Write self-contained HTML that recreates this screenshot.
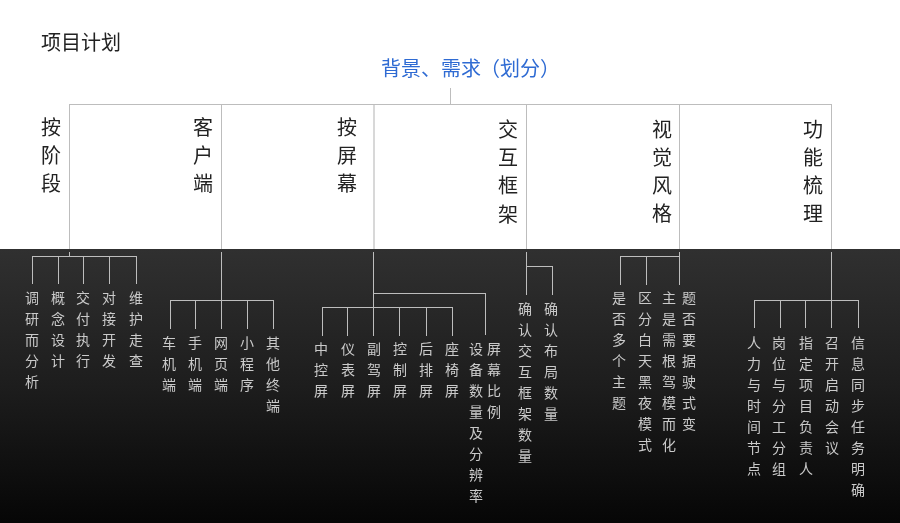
<!DOCTYPE html>
<html lang="zh-CN"><head><meta charset="utf-8">
<style>
html,body{margin:0;padding:0}
body{width:900px;height:523px;position:relative;overflow:hidden;background:#fff;font-family:"Liberation Sans",sans-serif}
.dark{position:absolute;left:0;top:249px;width:900px;height:274px;background:linear-gradient(#303030,#1d1d1d 50%,#060606)}
.wrap{position:absolute;left:0;top:0;width:900px;height:523px;will-change:transform}
.lines{position:absolute;left:0;top:0}
.lines line{stroke-width:1}
.t{position:absolute;font-size:14px;line-height:21px;color:#cacaca;width:14px;text-align:center;white-space:nowrap}
.h{position:absolute;font-size:20px;line-height:28.2px;color:#222;width:20px;text-align:center;white-space:nowrap}
.title{position:absolute;left:41px;top:31px;font-size:20px;line-height:24px;color:#222;white-space:nowrap}
.sub{position:absolute;left:381px;top:56px;font-size:20px;line-height:26px;color:#2f6bd3;font-weight:500;white-space:nowrap}
</style></head><body>
<div class="dark"></div>
<div class="wrap">
<svg class="lines" width="900" height="523" viewBox="0 0 900 523" shape-rendering="crispEdges">
<line x1="69" y1="104.5" x2="832" y2="104.5" stroke="#bdbdbd"/>
<line x1="450.5" y1="88" x2="450.5" y2="104.5" stroke="#bdbdbd"/>
<line x1="69.5" y1="104.5" x2="69.5" y2="249" stroke="#bdbdbd"/>
<line x1="221.5" y1="104.5" x2="221.5" y2="249" stroke="#bdbdbd"/>
<line x1="526.5" y1="104.5" x2="526.5" y2="249" stroke="#bdbdbd"/>
<line x1="679.5" y1="104.5" x2="679.5" y2="249" stroke="#bdbdbd"/>
<line x1="831.5" y1="104.5" x2="831.5" y2="249" stroke="#bdbdbd"/>
<line x1="69.5" y1="252" x2="69.5" y2="256.5" stroke="#bdbdbd"/>
<line x1="32.0" y1="256.5" x2="136.5" y2="256.5" stroke="#bdbdbd"/>
<line x1="32.5" y1="256.5" x2="32.5" y2="284" stroke="#bdbdbd"/>
<line x1="58.0" y1="256.5" x2="58.0" y2="284" stroke="#bdbdbd"/>
<line x1="83.7" y1="256.5" x2="83.7" y2="284" stroke="#bdbdbd"/>
<line x1="109.5" y1="256.5" x2="109.5" y2="284" stroke="#bdbdbd"/>
<line x1="136.0" y1="256.5" x2="136.0" y2="284" stroke="#bdbdbd"/>
<line x1="221.5" y1="252" x2="221.5" y2="300.5" stroke="#bdbdbd"/>
<line x1="169.6" y1="300.5" x2="274.2" y2="300.5" stroke="#bdbdbd"/>
<line x1="170.1" y1="300.5" x2="170.1" y2="328.6" stroke="#bdbdbd"/>
<line x1="195.9" y1="300.5" x2="195.9" y2="328.6" stroke="#bdbdbd"/>
<line x1="221.0" y1="300.5" x2="221.0" y2="328.6" stroke="#bdbdbd"/>
<line x1="247.0" y1="300.5" x2="247.0" y2="328.6" stroke="#bdbdbd"/>
<line x1="273.7" y1="300.5" x2="273.7" y2="328.6" stroke="#bdbdbd"/>
<line x1="373.5" y1="252" x2="373.5" y2="335.5" stroke="#bdbdbd"/>
<line x1="373.5" y1="293.5" x2="486.0" y2="293.5" stroke="#bdbdbd"/>
<line x1="485.5" y1="293.5" x2="485.5" y2="335.0" stroke="#bdbdbd"/>
<line x1="322.1" y1="307.5" x2="452.9" y2="307.5" stroke="#bdbdbd"/>
<line x1="322.6" y1="307.5" x2="322.6" y2="335.5" stroke="#bdbdbd"/>
<line x1="347.9" y1="307.5" x2="347.9" y2="335.5" stroke="#bdbdbd"/>
<line x1="373.5" y1="307.5" x2="373.5" y2="335.5" stroke="#bdbdbd"/>
<line x1="399.4" y1="307.5" x2="399.4" y2="335.5" stroke="#bdbdbd"/>
<line x1="426.4" y1="307.5" x2="426.4" y2="335.5" stroke="#bdbdbd"/>
<line x1="452.4" y1="307.5" x2="452.4" y2="335.5" stroke="#bdbdbd"/>
<line x1="526.5" y1="252" x2="526.5" y2="294.8" stroke="#bdbdbd"/>
<line x1="526.5" y1="266.5" x2="552.8" y2="266.5" stroke="#bdbdbd"/>
<line x1="552.5" y1="266.5" x2="552.5" y2="294.8" stroke="#bdbdbd"/>
<line x1="679.5" y1="252" x2="679.5" y2="284.5" stroke="#bdbdbd"/>
<line x1="620.0" y1="256.5" x2="679.5" y2="256.5" stroke="#bdbdbd"/>
<line x1="620.5" y1="256.5" x2="620.5" y2="284.5" stroke="#bdbdbd"/>
<line x1="646.2" y1="256.5" x2="646.2" y2="284.5" stroke="#bdbdbd"/>
<line x1="831.5" y1="252" x2="831.5" y2="300.5" stroke="#bdbdbd"/>
<line x1="754.0" y1="300.5" x2="858.5" y2="300.5" stroke="#bdbdbd"/>
<line x1="754.5" y1="300.5" x2="754.5" y2="328.4" stroke="#bdbdbd"/>
<line x1="780.5" y1="300.5" x2="780.5" y2="328.4" stroke="#bdbdbd"/>
<line x1="805.5" y1="300.5" x2="805.5" y2="328.4" stroke="#bdbdbd"/>
<line x1="831.5" y1="300.5" x2="831.5" y2="328.4" stroke="#bdbdbd"/>
<line x1="858.0" y1="300.5" x2="858.0" y2="328.4" stroke="#bdbdbd"/>
<rect x="373" y="105" width="2" height="144" fill="#d8d8d8"/>
</svg>
<div class="title">项目计划</div>
<div class="sub">背景、需求<span style="position:relative;left:-1.3px">（划分）</span></div>
<div class="h" style="left:40.50px;top:113.5px">按<br>阶<br>段</div>
<div class="h" style="left:193.20px;top:113.5px">客<br>户<br>端</div>
<div class="h" style="left:337.30px;top:113.5px">按<br>屏<br>幕</div>
<div class="h" style="left:498.20px;top:115.9px">交<br>互<br>框<br>架</div>
<div class="h" style="left:651.80px;top:115.8px">视<br>觉<br>风<br>格</div>
<div class="h" style="left:802.70px;top:115.7px">功<br>能<br>梳<br>理</div>
<div class="t" style="left:24.90px;top:288.0px">调<br>研<br>而<br>分<br>析</div>
<div class="t" style="left:50.60px;top:288.0px">概<br>念<br>设<br>计</div>
<div class="t" style="left:76.40px;top:288.0px">交<br>付<br>执<br>行</div>
<div class="t" style="left:102.10px;top:288.0px">对<br>接<br>开<br>发</div>
<div class="t" style="left:128.70px;top:288.0px">维<br>护<br>走<br>查</div>
<div class="t" style="left:162.10px;top:332.5px">车<br>机<br>端</div>
<div class="t" style="left:188.30px;top:332.5px">手<br>机<br>端</div>
<div class="t" style="left:214.00px;top:332.5px">网<br>页<br>端</div>
<div class="t" style="left:240.20px;top:332.5px">小<br>程<br>序</div>
<div class="t" style="left:266.40px;top:332.5px">其<br>他<br>终<br>端</div>
<div class="t" style="left:314.30px;top:338.5px">中<br>控<br>屏</div>
<div class="t" style="left:340.70px;top:338.5px">仪<br>表<br>屏</div>
<div class="t" style="left:367.30px;top:338.5px">副<br>驾<br>屏</div>
<div class="t" style="left:393.30px;top:338.5px">控<br>制<br>屏</div>
<div class="t" style="left:418.50px;top:338.5px">后<br>排<br>屏</div>
<div class="t" style="left:445.40px;top:338.5px">座<br>椅<br>屏</div>
<div class="t" style="left:469.00px;top:338.5px">设<br>备<br>数<br>量<br>及<br>分<br>辨<br>率</div>
<div class="t" style="left:487.00px;top:338.5px">屏<br>幕<br>比<br>例</div>
<div class="t" style="left:518.20px;top:298.5px">确<br>认<br>交<br>互<br>框<br>架<br>数<br>量</div>
<div class="t" style="left:544.20px;top:298.5px">确<br>认<br>布<br>局<br>数<br>量</div>
<div class="t" style="left:612.00px;top:288.0px">是<br>否<br>多<br>个<br>主<br>题</div>
<div class="t" style="left:638.20px;top:288.0px">区<br>分<br>白<br>天<br>黑<br>夜<br>模<br>式</div>
<div class="t" style="left:661.75px;top:288.0px">主<br>是<br>需<br>根<br>驾<br>模<br>而<br>化</div>
<div class="t" style="left:682.40px;top:288.0px">题<br>否<br>要<br>据<br>驶<br>式<br>变</div>
<div class="t" style="left:746.80px;top:332.5px">人<br>力<br>与<br>时<br>间<br>节<br>点</div>
<div class="t" style="left:772.40px;top:332.5px">岗<br>位<br>与<br>分<br>工<br>分<br>组</div>
<div class="t" style="left:798.70px;top:332.5px">指<br>定<br>项<br>目<br>负<br>责<br>人</div>
<div class="t" style="left:824.60px;top:332.5px">召<br>开<br>启<br>动<br>会<br>议</div>
<div class="t" style="left:850.90px;top:332.5px">信<br>息<br>同<br>步<br>任<br>务<br>明<br>确</div>
</div>
</body></html>
